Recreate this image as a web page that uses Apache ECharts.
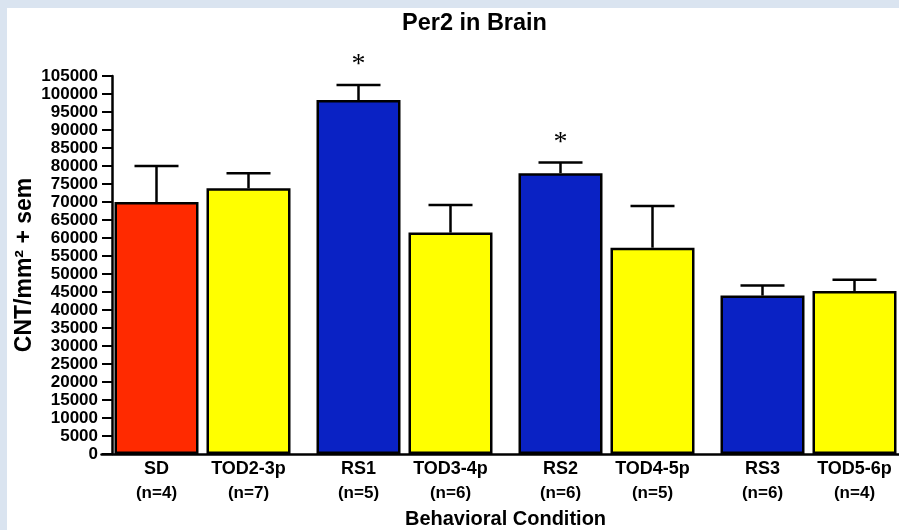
<!DOCTYPE html>
<html>
<head>
<meta charset="utf-8">
<title>Per2 in Brain</title>
<script src="https://cdn.jsdelivr.net/npm/echarts@6/dist/echarts.min.js"></script>
<style>
  html, body { margin: 0; padding: 0; width: 899px; height: 530px; overflow: hidden; }
  body { background: #dae4f0; }
  #chart { position: absolute; left: 7px; top: 8px; width: 892px; height: 522px; background: #fff; }
</style>
</head>
<body>
<div id="chart"></div>
<script>
// data
const conditions = ["SD", "TOD2-3p", "RS1", "TOD3-4p", "RS2", "TOD4-5p", "RS3", "TOD5-6p"];
const nCounts = [4, 7, 5, 6, 6, 5, 6, 4];
const means = [70000, 73800, 98300, 61500, 78000, 57300, 44000, 45300];
const sems = [10000, 4200, 4200, 7700, 3000, 11600, 2800, 3100];
const significant = [0, 0, 1, 0, 1, 0, 0, 0];
const yMax = 105000;
const yStep = 5000;

// styles
const barColors = ["#ff2a00", "#ffff00", "#0a22c4", "#ffff00", "#0a22c4", "#ffff00", "#0a22c4", "#ffff00"];
const BAR_W = 84;
const BAR_GAP = 8;
const CAP_W = 44;
const FONT = "Liberation Sans, Arial, sans-serif";

// bars are drawn in pairs (one category per pair)
const pairs = conditions.filter((c, i) => i % 2 === 0).map((c, i) => "p" + i);
const leftIdx = conditions.map((c, i) => i).filter(i => i % 2 === 0);
const rightIdx = conditions.map((c, i) => i).filter(i => i % 2 === 1);

function barData(idx) {
  return idx.map(i => ({
    value: means[i],
    itemStyle: { color: barColors[i] }
  }));
}

function labelFor(idx) {
  return function (p) {
    const i = idx[p.dataIndex];
    return "{a|" + conditions[i] + "}\n{b|(n=" + nCounts[i] + ")}";
  };
}

const barLabel = {
  show: true,
  position: "bottom",
  distance: 3,
  color: "#000",
  rich: {
    a: { fontFamily: FONT, fontWeight: "bold", fontSize: 18, lineHeight: 24, color: "#000" },
    b: { fontFamily: FONT, fontWeight: "bold", fontSize: 17, lineHeight: 24, color: "#000" }
  }
};

const errData = conditions.map((c, i) => [Math.floor(i / 2), means[i], sems[i], i % 2 ? 1 : -1, significant[i]]);

function renderError(params, api) {
  const p = api.value(0), m = api.value(1), s = api.value(2), side = api.value(3), star = api.value(4);
  const base = api.coord([p, m]);
  const top = api.coord([p, m + s]);
  const x = base[0] + side * (BAR_W + BAR_GAP) / 2;
  const stroke = { stroke: "#000", lineWidth: 2.5 };
  const children = [
    { type: "line", shape: { x1: x, y1: base[1], x2: x, y2: top[1] }, style: stroke },
    { type: "line", shape: { x1: x - CAP_W / 2, y1: top[1], x2: x + CAP_W / 2, y2: top[1] }, style: stroke }
  ];
  if (star) {
    children.push({
      type: "text",
      style: {
        text: "*", x: x, y: top[1] - 20,
        align: "center", verticalAlign: "middle",
        font: "28px Liberation Serif, Times New Roman, serif", fill: "#000"
      }
    });
  }
  return { type: "group", children: children };
}

const chart = echarts.init(document.getElementById("chart"));
chart.setOption({
  animation: false,
  title: {
    text: "Per2 in Brain",
    left: 395,
    top: 4,
    padding: 0,
    textStyle: { fontFamily: FONT, fontWeight: "bold", fontSize: 23.5, color: "#000" }
  },
  grid: { left: 94.5, top: 68, width: 808, height: 378, outerBoundsMode: "none", containLabel: false },
  xAxis: {
    type: "category",
    data: pairs,
    name: "Behavioral Condition",
    nameLocation: "middle",
    nameGap: 55,
    nameMoveOverlap: false,
    nameTextStyle: { fontFamily: FONT, fontWeight: "bold", fontSize: 20, color: "#000" },
    axisLine: { lineStyle: { color: "#000", width: 2.5 } },
    axisTick: { show: false },
    axisLabel: { show: false }
  },
  yAxis: {
    type: "value",
    min: 0,
    max: yMax,
    interval: yStep,
    offset: -10.5,
    name: "CNT/mm² + sem",
    nameLocation: "middle",
    nameGap: 76,
    nameMoveOverlap: false,
    nameTextStyle: { fontFamily: FONT, fontWeight: "bold", fontSize: 23, color: "#000" },
    axisLine: { show: true, lineStyle: { color: "#000", width: 2.5 } },
    axisTick: { show: true, length: 10, lineStyle: { color: "#000", width: 2 } },
    axisLabel: {
      margin: 14,
      fontFamily: FONT, fontWeight: "bold", fontSize: 17, color: "#000",
      formatter: v => String(v)
    },
    splitLine: { show: false }
  },
  series: [
    {
      type: "bar",
      data: barData(leftIdx),
      barWidth: BAR_W,
      barGap: (BAR_GAP / BAR_W * 100) + "%",
      itemStyle: { borderColor: "#000", borderWidth: 2.5 },
      label: Object.assign({ formatter: labelFor(leftIdx) }, barLabel)
    },
    {
      type: "bar",
      data: barData(rightIdx),
      barWidth: BAR_W,
      barGap: (BAR_GAP / BAR_W * 100) + "%",
      itemStyle: { borderColor: "#000", borderWidth: 2.5 },
      label: Object.assign({ formatter: labelFor(rightIdx) }, barLabel)
    },
    {
      type: "custom",
      data: errData,
      renderItem: renderError,
      z: 5,
      silent: true
    }
  ]
});
</script>
</body>
</html>
